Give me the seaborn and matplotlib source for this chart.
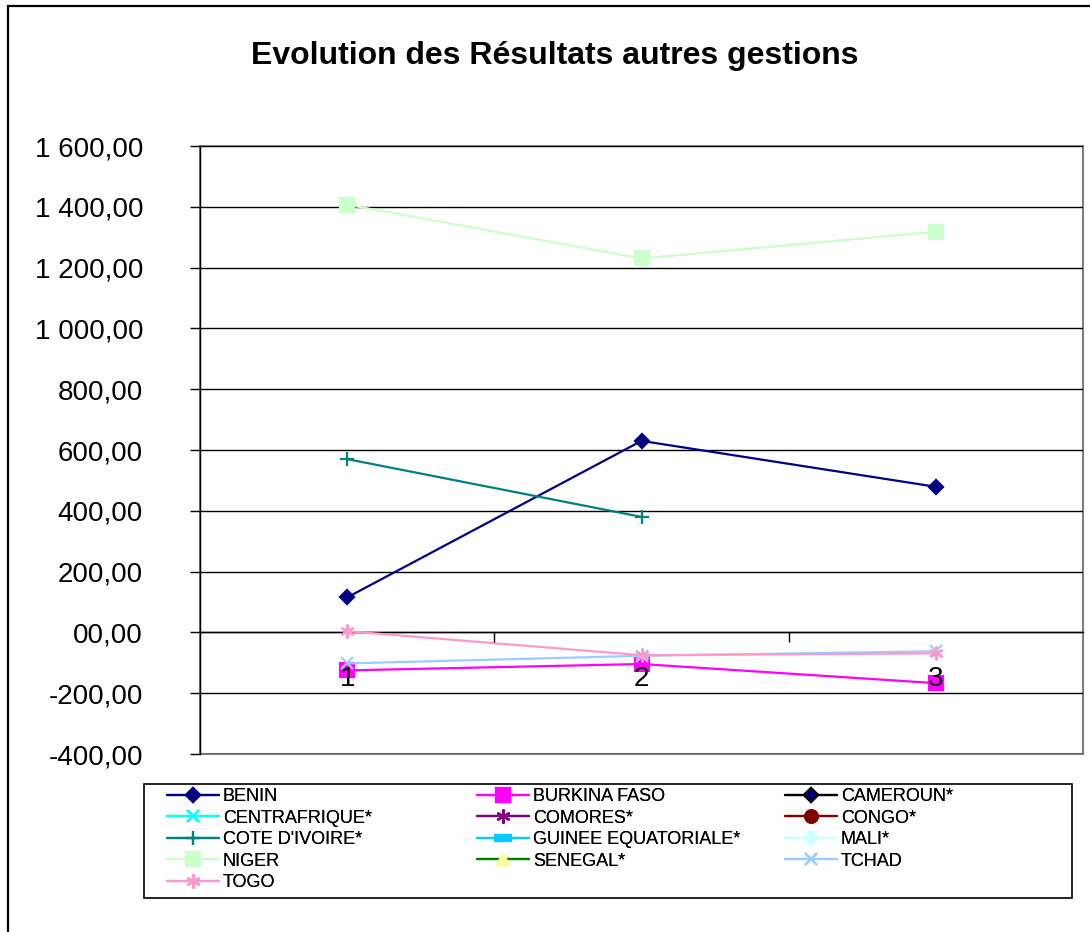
import numpy as np
import pandas as pd
import seaborn as sns
import matplotlib.pyplot as plt
from matplotlib.lines import Line2D
from matplotlib.patches import Rectangle
from matplotlib.path import Path

# --- data ---
categories = [1, 2, 3]
series_names = ['BENIN', 'BURKINA FASO', 'CAMEROUN*', 'CENTRAFRIQUE*', 'COMORES*', 'CONGO*',
                "COTE D'IVOIRE*", 'GUINEE EQUATORIALE*', 'MALI*', 'NIGER', 'SENEGAL*', 'TCHAD', 'TOGO']
nan = np.nan
benin = [115, 630, 479]
burkina_faso = [-125, -104, -167]
cameroun = [nan, nan, nan]
centrafrique = [nan, nan, nan]
comores = [nan, nan, nan]
congo = [nan, nan, nan]
cote_divoire = [570, 380, nan]
guinee_equatoriale = [nan, nan, nan]
mali = [nan, nan, nan]
niger = [1407, 1230, 1318]
senegal = [nan, nan, nan]
tchad = [-102, -77, -62]
togo = [4, -75, -69]
series_values = [benin, burkina_faso, cameroun, centrafrique, comores, congo, cote_divoire,
                  guinee_equatoriale, mali, niger, senegal, tchad, togo]

y_ticks = [-400, -200, 0, 200, 400, 600, 800, 1000, 1200, 1400, 1600]
y_tick_labels = ['-400,00', '-200,00', '00,00', '200,00', '400,00', '600,00', '800,00',
                 '1 000,00', '1 200,00', '1 400,00', '1 600,00']
x_tick_labels = ['1', '2', '3']
title = 'Evolution des Résultats autres gestions'

# Excel style markers
dash = Path([(-1, -0.35), (1, -0.35), (1, 0.35), (-1, 0.35), (-1, -0.35)],
            [Path.MOVETO, Path.LINETO, Path.LINETO, Path.LINETO, Path.CLOSEPOLY])
star = (6, 2, 0)
styles = [
    dict(color='#000080', marker='D', ms=7.5, mfc='#000080', mec='#000080'),
    dict(color='#FF00FF', marker='s', ms=9.5, mfc='#FF00FF', mec='#FF00FF'),
    dict(color='#000000', marker='D', ms=7.5, mfc='#000080', mec='#000000'),
    dict(color='#00FFFF', marker='x', ms=9, mfc='#00FFFF', mec='#00FFFF'),
    dict(color='#800080', marker=star, ms=10, mfc='#800080', mec='#800080'),
    dict(color='#800000', marker='o', ms=9, mfc='#800000', mec='#800000'),
    dict(color='#008080', marker='+', ms=10, mfc='#008080', mec='#008080'),
    dict(color='#00CCFF', marker=dash, ms=11, mfc='#00CCFF', mec='#00CCFF'),
    dict(color='#CCFFFF', marker='D', ms=7.5, mfc='#CCFFFF', mec='#CCFFFF'),
    dict(color='#CCFFCC', marker='s', ms=9.5, mfc='#CCFFCC', mec='#CCFFCC'),
    dict(color='#008000', marker='^', ms=9, mfc='#FFFF99', mec='#FFFF99'),
    dict(color='#99CCFF', marker='x', ms=9, mfc='#99CCFF', mec='#99CCFF'),
    dict(color='#FF99CC', marker=star, ms=10, mfc='#FF99CC', mec='#FF99CC'),
]

sns.set_theme(style='white')
plt.rcParams['font.family'] = ['Liberation Sans', 'DejaVu Sans']
plt.rcParams['text.color'] = 'black'
plt.rcParams['xtick.color'] = 'black'
plt.rcParams['ytick.color'] = 'black'

W, H = 1090, 932
fig = plt.figure(figsize=(W / 100, H / 100), dpi=100)


def px_box(x0, y0, x1, y1):
    # pixel box (top-left origin) -> figure fraction [left, bottom, width, height]
    return [x0 / W, 1 - y1 / H, (x1 - x0) / W, (y1 - y0) / H]


ax = fig.add_axes(px_box(200, 146, 1083, 754))

for name, vals, st in zip(series_names, series_values, styles):
    df = pd.DataFrame({'x': categories, 'y': vals}).dropna()
    if df.empty:
        continue
    sns.lineplot(data=df, x='x', y='y', ax=ax, color=st['color'], lw=1.6,
                 marker=st['marker'], markersize=st['ms'], markerfacecolor=st['mfc'],
                 markeredgecolor=st['mec'], markeredgewidth=1.6, legend=False, zorder=3)

ax.set_xlim(0.5, 3.5)
ax.set_ylim(-400, 1600)
ax.set_xlabel('')
ax.set_ylabel('')

ax.set_yticks(y_ticks)
ax.set_yticklabels(y_tick_labels)
ax.set_xticks(categories)
ax.set_xticklabels(x_tick_labels)
ax.set_xticks([1.5, 2.5], minor=True)

ax.yaxis.grid(True, color='black', lw=1)
ax.set_axisbelow(True)
ax.xaxis.set_zorder(5)  # category labels sit on top of the markers
for sp in ['top', 'right']:
    ax.spines[sp].set_visible(False)
ax.spines['left'].set_color('black')
ax.spines['left'].set_linewidth(1)
ax.spines['bottom'].set_position(('data', 0))
ax.spines['bottom'].set_color('black')
ax.spines['bottom'].set_linewidth(1)
ax.add_patch(Rectangle((0, 0), 1, 1, transform=ax.transAxes, fill=False,
                       ec='#808080', lw=1.5, clip_on=False, zorder=0.5))

ax.tick_params(axis='y', which='major', direction='out', length=7, width=1,
               color='black', labelcolor='black', labelsize=20, pad=34, left=True)
ax.tick_params(axis='x', which='major', length=0, labelsize=20, labelcolor='black',
               pad=24, bottom=True)
ax.tick_params(axis='x', which='minor', direction='out', length=7, width=1,
               color='black', bottom=True)

# title
fig.text(555 / W, 1 - 64 / H, title, ha='center', va='baseline',
         fontsize=23, fontweight='bold', color='black')

# chart area border (cut at right and bottom like the reference)
fig.add_artist(Rectangle((8 / W, -0.05), 1.2, 1 - 6 / H + 0.05, transform=fig.transFigure,
                         fill=False, ec='black', lw=1.6))

# legend frame
lb = px_box(144, 784, 1072, 898)
fig.add_artist(Rectangle((lb[0], lb[1]), lb[2], lb[3], transform=fig.transFigure,
                         fill=False, ec='black', lw=1.2))

handles = [Line2D([], [], color=st['color'], lw=1.6, marker=st['marker'], markersize=st['ms'],
                  markerfacecolor=st['mfc'], markeredgecolor=st['mec'], markeredgewidth=1.6)
           for st in styles]
col_x = [167, 477, 785]
for c in range(3):
    idx = list(range(c, len(series_names), 3))
    leg = fig.legend([handles[i] for i in idx], [series_names[i] for i in idx],
                     loc='upper left', bbox_to_anchor=(col_x[c] / W, 1 - 788 / H),
                     frameon=False, fontsize=13, handlelength=2.9, handletextpad=0.2,
                     labelspacing=0.25, borderpad=0, borderaxespad=0, labelcolor='black')
    fig.add_artist(leg)

fig.savefig('out.png', dpi=100)
